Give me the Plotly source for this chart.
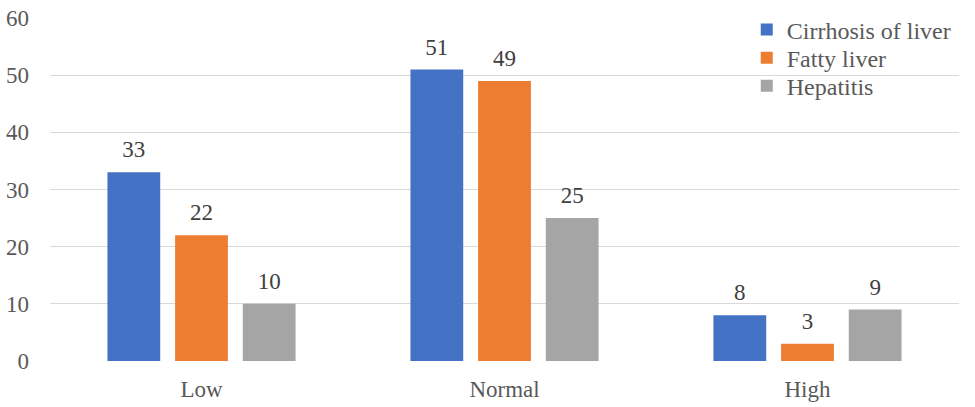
import plotly.graph_objects as go

categories = ["Low", "Normal", "High"]
series_names = ["Cirrhosis of liver", "Fatty liver", "Hepatitis"]
cirrhosis = [33, 51, 8]
fatty = [22, 49, 3]
hepatitis = [10, 25, 9]
y_ticks = [0, 10, 20, 30, 40, 50, 60]

colors = ["#4472C4", "#ED7D31", "#A5A5A5"]
FONT = "Liberation Serif"
legend_ids = ["legend", "legend2", "legend3"]
legend_y = [0.965, 0.883, 0.801]

fig = go.Figure()
for name, vals, col, lg in zip(series_names, [cirrhosis, fatty, hepatitis], colors, legend_ids):
    fig.add_trace(go.Bar(x=categories, y=vals, name=name, marker_color=col,
                         marker_line_width=0, offsetgroup=name, hoverinfo="skip",
                         legend=lg))
for name, vals in zip(series_names, [cirrhosis, fatty, hepatitis]):
    fig.add_trace(go.Scatter(x=categories, y=vals, mode="markers+text",
                             text=[str(v) for v in vals], textposition="top center",
                             textfont=dict(family=FONT, size=23, color="#404040"),
                             marker=dict(size=13, opacity=0), offsetgroup=name,
                             showlegend=False, hoverinfo="skip", cliponaxis=False))

legend_common = dict(x=0.7665, xanchor="left", yanchor="middle",
                     font=dict(family=FONT, size=24, color="#595959"),
                     bgcolor="rgba(0,0,0,0)")

fig.update_layout(
    width=975, height=407,
    margin=dict(l=50, r=16, t=18, b=46, autoexpand=False),
    paper_bgcolor="white", plot_bgcolor="white",
    barmode="group", bargap=0.33, bargroupgap=0.22,
    scattermode="group", scattergap=0.33,
    font=dict(family=FONT, size=23, color="#595959"),
    showlegend=True,
    legend=dict(y=legend_y[0], **legend_common),
    legend2=dict(y=legend_y[1], **legend_common),
    legend3=dict(y=legend_y[2], **legend_common),
    xaxis=dict(showgrid=False, showline=False, ticks="", ticklabelstandoff=12,
               automargin=False,
               tickfont=dict(family=FONT, size=23, color="#595959")),
    yaxis=dict(range=[0, 60], tickvals=y_ticks, showgrid=True, gridcolor="#D9D9D9",
               gridwidth=1.3, zeroline=False, showline=False, ticks="",
               ticklabelstandoff=20, automargin=False,
               tickfont=dict(family=FONT, size=23, color="#595959")),
)

fig.write_html("out.html", config={"displayModeBar": False},
               post_script="document.body.style.margin='0';")
